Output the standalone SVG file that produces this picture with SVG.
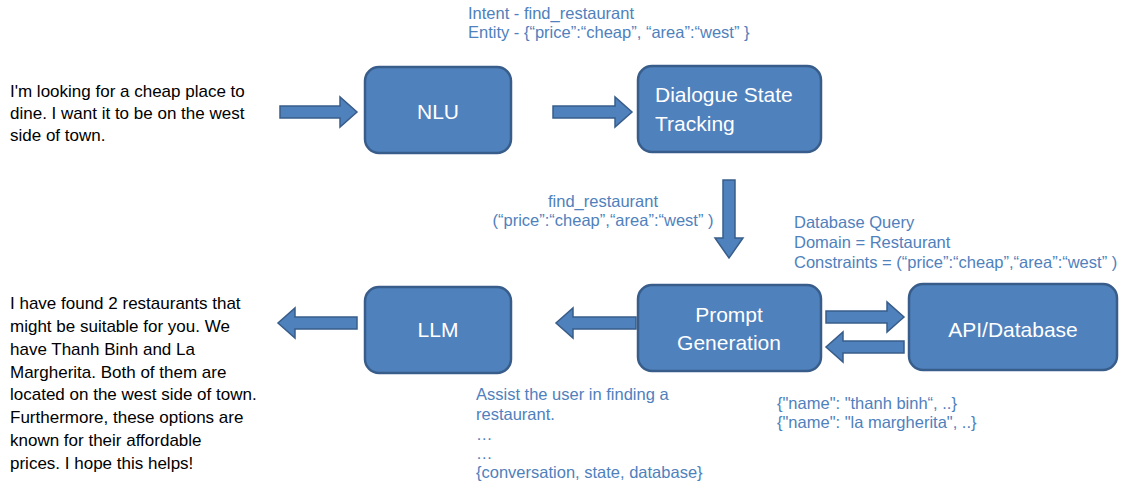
<svg xmlns="http://www.w3.org/2000/svg" width="1126" height="486" viewBox="0 0 1126 486">
<style>
.box{fill:#4F81BD;stroke:#385D8A;stroke-width:2.5}
.arr{fill:#4F81BD;stroke:#385D8A;stroke-width:1.5}
.bt{font-family:"Liberation Sans",Arial,sans-serif;font-size:21px;fill:#FFFFFF}
.note{font-family:"Liberation Sans",Arial,sans-serif;font-size:16.5px;fill:#4F81BD}
.blk{font-family:"Liberation Sans",Arial,sans-serif;font-size:17px;fill:#000000}
</style>
<rect width="1126" height="486" fill="#FFFFFF"/>
<g id="user-input">
<text class="blk" x="10" y="97">I'm looking for a cheap place to</text>
<text class="blk" x="10" y="119">dine. I want it to be on the west</text>
<text class="blk" x="10" y="141">side of town.</text>
</g>
<g id="response">
<text class="blk" x="10" y="309">I have found 2 restaurants that</text>
<text class="blk" x="10" y="332">might be suitable for you. We</text>
<text class="blk" x="10" y="355">have Thanh Binh and La</text>
<text class="blk" x="10" y="378">Margherita. Both of them are</text>
<text class="blk" x="10" y="400">located on the west side of town.</text>
<text class="blk" x="10" y="423">Furthermore, these options are</text>
<text class="blk" x="10" y="446">known for their affordable</text>
<text class="blk" x="10" y="469">prices. I hope this helps!</text>
</g>
<g id="nlu">
<rect class="box" x="365" y="67" width="146" height="86" rx="14"/>
<text class="bt" x="438" y="119" text-anchor="middle">NLU</text>
</g>
<g id="dst">
<rect class="box" x="638" y="66" width="183" height="86" rx="14"/>
<text class="bt" x="655" y="102">Dialogue State</text>
<text class="bt" x="655" y="131">Tracking</text>
</g>
<g id="prompt-generation">
<rect class="box" x="638" y="285" width="183" height="86" rx="14"/>
<text class="bt" x="729" y="322" text-anchor="middle">Prompt</text>
<text class="bt" x="729" y="350" text-anchor="middle">Generation</text>
</g>
<g id="api-database">
<rect class="box" x="909" y="284" width="208" height="86" rx="14"/>
<text class="bt" x="1013" y="337" text-anchor="middle">API/Database</text>
</g>
<g id="llm">
<rect class="box" x="365" y="287" width="146" height="86" rx="14"/>
<text class="bt" x="438" y="337" text-anchor="middle">LLM</text>
</g>
<g id="connectors">
<polygon class="arr" points="280,106 340,106 340,97 357,112 340,127 340,118 280,118"/>
<polygon class="arr" points="553,106 615,106 615,97 632,112 615,127 615,118 553,118"/>
<polygon class="arr" points="723,180 735,180 735,238 743,238 729,258 715,238 723,238"/>
<polygon class="arr" points="636,317 573,317 573,308 556,323 573,338 573,329 636,329"/>
<polygon class="arr" points="357,317 295,317 295,308 278,323 295,338 295,329 357,329"/>
<polygon class="arr" points="826,311 887,311 887,302 904,317 887,332 887,323 826,323"/>
<polygon class="arr" points="904,341 843,341 843,332 826,347 843,362 843,353 904,353"/>
</g>
<g id="labels">
<text class="note" x="468" y="19">Intent - find_restaurant</text>
<text class="note" x="468" y="38">Entity - {“price”:“cheap”, “area”:“west” }</text>
<text class="note" x="603" y="207" text-anchor="middle">find_restaurant</text>
<text class="note" x="603" y="226" text-anchor="middle">(“price”:“cheap”,“area”:“west” )</text>
<text class="note" x="794" y="228">Database Query</text>
<text class="note" x="794" y="248">Domain = Restaurant</text>
<text class="note" x="794" y="268">Constraints = (“price”:“cheap”,“area”:“west” )</text>
<text class="note" x="476" y="400">Assist the user in finding a</text>
<text class="note" x="476" y="420">restaurant.</text>
<text class="note" x="476" y="440">…</text>
<text class="note" x="476" y="459">…</text>
<text class="note" x="476" y="478">{conversation, state, database}</text>
<text class="note" x="777" y="409">{"name":  "thanh binh“, ..}</text>
<text class="note" x="777" y="428">{"name":  "la margherita", ..}</text>
</g>
</svg>
